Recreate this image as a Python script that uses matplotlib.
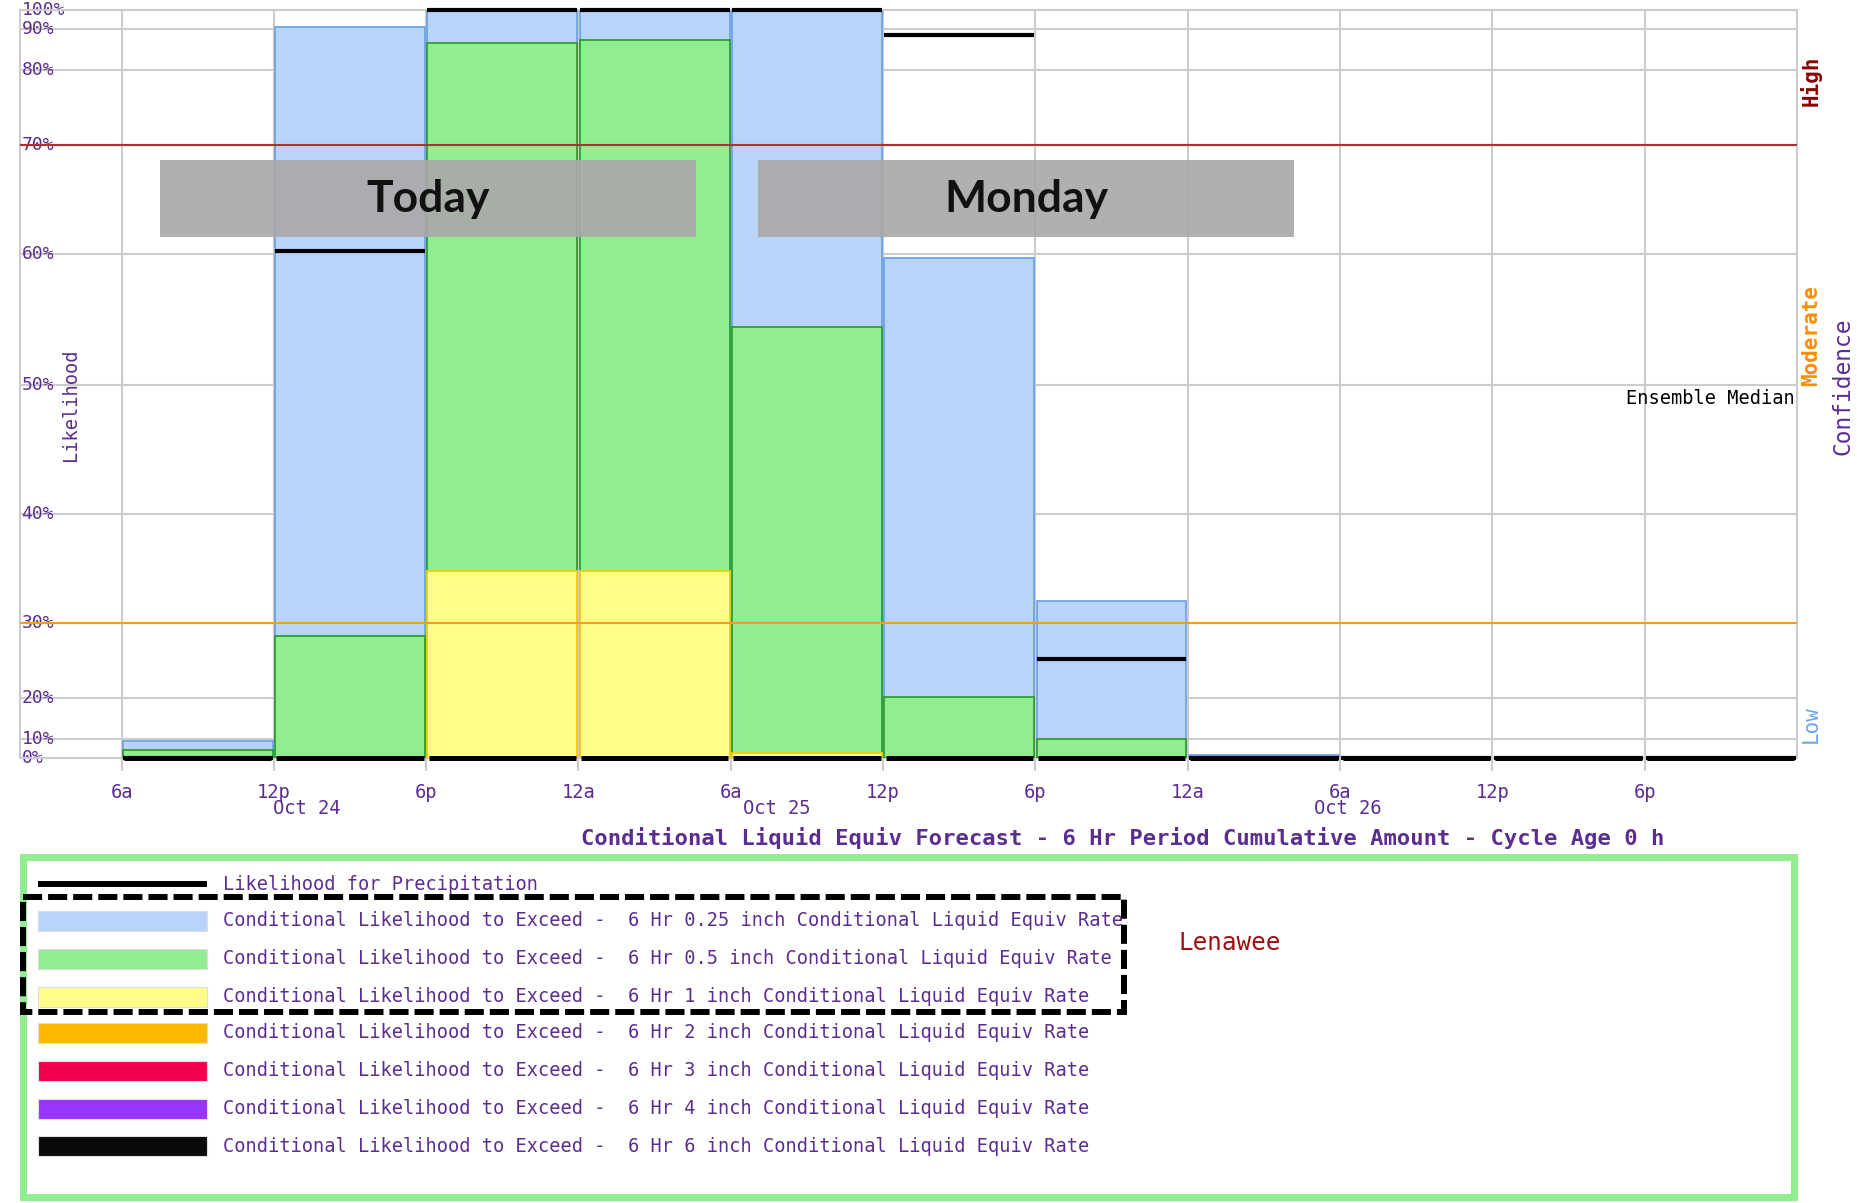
import numpy as np
import matplotlib.pyplot as plt
from matplotlib.patches import Rectangle

#%% data (hours counted from 12a Oct 24, 6 hr periods)

period_start = [6, 12, 18, 24, 30, 36, 42, 48, 54, 60, 66]
exceed_025 = [9, 91, 100, 100, 100, 59.7, 32, 1.5, 0, 0, 0]
exceed_05 = [4, 28.3, 86.7, 87.3, 54.4, 20.1, 10, 0, 0, 0, 0]
exceed_1 = [0, 0, 34.8, 34.8, 2.6, 0, 0, 0, 0, 0, 0]
exceed_6 = [0, 0, 0, 0, 0, 0, 0, 0, 0, 0, 0]
pop = [0, 60.3, 100, 100, 100, 88.5, 25.2, 0, 0, 0, 0]

tick_hours = [6, 12, 18, 24, 30, 36, 42, 48, 54, 60, 66]
tick_labels = ['6a', '12p', '6p', '12a', '6a', '12p', '6p', '12a', '6a', '12p', '6p']
date_hours = [13.3, 31.8, 54.3]
date_labels = ['Oct 24', 'Oct 25', 'Oct 26']

scale_pct = [0, 10, 20, 30, 40, 50, 60, 70, 80, 90, 100]
scale_pos = [0, 19, 60, 135, 244, 373, 504, 613, 688, 729, 748]

legend_labels = [
    'Likelihood for Precipitation',
    'Conditional Likelihood to Exceed -  6 Hr 0.25 inch Conditional Liquid Equiv Rate',
    'Conditional Likelihood to Exceed -  6 Hr 0.5 inch Conditional Liquid Equiv Rate',
    'Conditional Likelihood to Exceed -  6 Hr 1 inch Conditional Liquid Equiv Rate',
    'Conditional Likelihood to Exceed -  6 Hr 2 inch Conditional Liquid Equiv Rate',
    'Conditional Likelihood to Exceed -  6 Hr 3 inch Conditional Liquid Equiv Rate',
    'Conditional Likelihood to Exceed -  6 Hr 4 inch Conditional Liquid Equiv Rate',
    'Conditional Likelihood to Exceed -  6 Hr 6 inch Conditional Liquid Equiv Rate',
]
legend_colors = ['black', '#b8d4f8', '#90ee90', '#ffff88', '#ffb800', '#f0004c', '#9933ff', '#0a0a0a']

purple = '#5c2d91'
mono = 'DejaVu Sans Mono'

#%% figure

fig = plt.figure(figsize=(18.58, 12.03), dpi=100)
W, H = 1858, 1203
ax = fig.add_axes([20 / W, (H - 758) / H, 1777 / W, 748 / H])


def fwd(v):
    return np.interp(v, scale_pct, scale_pos)


def inv(p):
    return np.interp(p, scale_pos, scale_pct)


ax.set_yscale('function', functions=(fwd, inv))
ax.set_ylim(0, 100)
ax.set_xlim(2, 72)

starts = np.array(period_start, dtype=float)

# stacked-looking bars (all start at 0, drawn largest first)
for vals, fc, ec in [(exceed_025, '#b8d4f8', '#6fa3e8'),
                     (exceed_05, '#90ee90', '#2f9e2f'),
                     (exceed_1, '#ffff88', '#f5d000')]:
    vals = np.array(vals, dtype=float)
    m = vals > 0
    ax.bar(starts[m] + 0.05, vals[m], width=5.9, align='edge',
           color=fc, edgecolor=ec, linewidth=1.3, zorder=3)

# black lines: 6 inch exceedance at bottom and PoP
ax.hlines(exceed_6, starts + 0.1, starts + 5.9, color='black', linewidth=3.6, zorder=5, clip_on=False)
ax.hlines(pop, starts + 0.05, starts + 5.95, color='black', linewidth=3.0, zorder=5, clip_on=False)

# confidence thresholds
ax.axhline(70, color='#b03030', linewidth=1.5, zorder=4)
ax.axhline(30, color='#ff9a1a', linewidth=1.5, zorder=4)

ax.set_yticks(scale_pct)
ax.set_yticklabels([f'{p}%' for p in scale_pct], family=mono, fontsize=13, color=purple)
ax.tick_params(axis='y', direction='in', length=0, pad=-1)
for lab in ax.get_yticklabels():
    lab.set_horizontalalignment('left')
    lab.set_verticalalignment('center')

ax.set_xticks(tick_hours)
ax.set_xticklabels(tick_labels, family=mono, fontsize=13.5, color=purple)
ax.tick_params(axis='x', length=9, width=1.5, color='#cccccc', pad=9)

ax.grid(True, color='#cccccc', linewidth=1.5, zorder=0)
ax.set_axisbelow(True)
for sp in ax.spines.values():
    sp.set_color('#cccccc')
    sp.set_linewidth(1.5)

tr = ax.get_xaxis_transform()
for h, lab in zip(date_hours, date_labels):
    ax.text(h, -0.068, lab, transform=tr, ha='center', va='center',
            family=mono, fontsize=13.5, color=purple)

ax.text(0.0287, 0.472, 'Likelihood', transform=ax.transAxes, rotation=90,
        ha='center', va='center', family=mono, fontsize=13.5, color=purple)
ax.text(0.999, 0.481, 'Ensemble Median', transform=ax.transAxes,
        ha='right', va='center', family=mono, fontsize=13.4, color='black', zorder=6)

#%% overlay in pixel coordinates (annotations, legend)

ov = fig.add_axes([0, 0, 1, 1], zorder=10)
ov.set_xlim(0, W)
ov.set_ylim(H, 0)
ov.axis('off')

# day boxes
for x0, x1, txt in [(160, 696, 'Today'), (758, 1294, 'Monday')]:
    ov.add_patch(Rectangle((x0, 160), x1 - x0, 77, facecolor='#a9a9a9', edgecolor='none', alpha=0.92))
    ov.text((x0 + x1) / 2, 199, txt, ha='center', va='center', family='Lato',
            fontweight='bold', fontsize=32, color='#111111')

# right side labels
ov.text(1811, 81, 'High', rotation=90, ha='center', va='center', family=mono,
        fontweight='bold', fontsize=15, color='#8b0000')
ov.text(1811, 335, 'Moderate', rotation=90, ha='center', va='center', family=mono,
        fontweight='bold', fontsize=15, color='#ff8c00')
ov.text(1811, 724, 'Low', rotation=90, ha='center', va='center', family=mono,
        fontsize=15, color='#6aa5ee')
ov.text(1843, 386, 'Confidence', rotation=90, ha='center', va='center', family=mono,
        fontsize=16.5, color=purple)

ov.text(1123, 838, 'Conditional Liquid Equiv Forecast - 6 Hr Period Cumulative Amount - Cycle Age 0 h',
        ha='center', va='center', family=mono, fontweight='bold', fontsize=15.9, color=purple)

# legend box
ov.add_patch(Rectangle((23.5, 856.5), 1770.5, 340.5, facecolor='white', edgecolor='#90ee90', linewidth=5))
row_y = [884, 921, 959, 997, 1033, 1071, 1109, 1146]
for i, (lab, col) in enumerate(zip(legend_labels, legend_colors)):
    y = row_y[i]
    if i == 0:
        ov.plot([38, 207], [y, y], color=col, linewidth=4.3, solid_capstyle='butt')
    else:
        ov.add_patch(Rectangle((38, y - 10), 169, 20, facecolor=col, edgecolor='#dddddd', linewidth=0.8))
    ov.text(223, y, lab, ha='left', va='center', family=mono, fontsize=13.42, color=purple)

ov.text(1179, 943, 'Lenawee', ha='left', va='center', family=mono, fontsize=17.5, color='#a01010')

# dashed highlight
ov.add_patch(Rectangle((23, 897), 1101, 115, facecolor='none', edgecolor='black',
                       linewidth=4.3, linestyle=(0, (3.2, 1.0)), joinstyle='miter'))

fig.savefig('out.png', dpi=100)
